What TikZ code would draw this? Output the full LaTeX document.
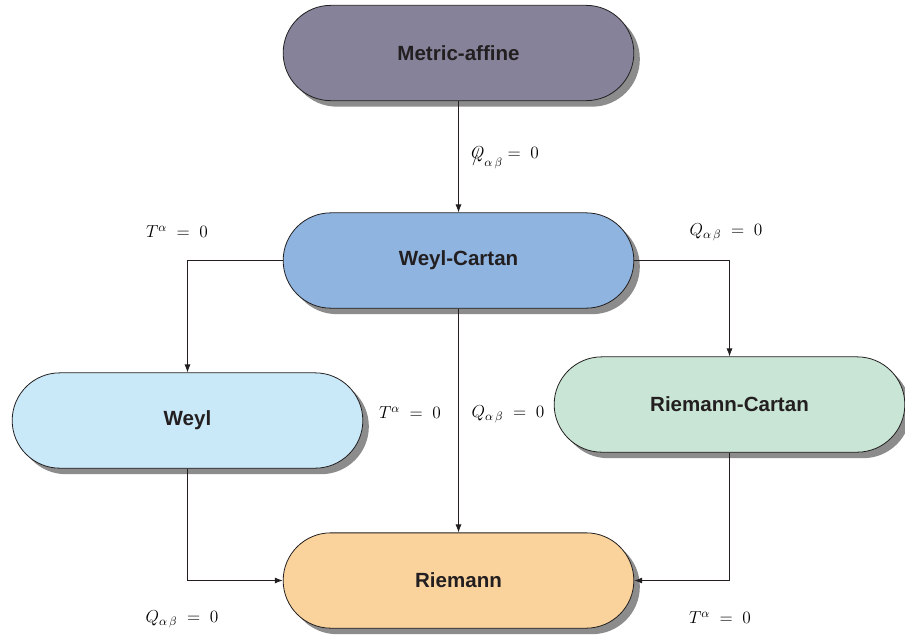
\RequirePackage{fix-cm}
\documentclass[tikz,border=0pt]{standalone}
\usepackage{fontspec}
\newfontfamily\boxfont{Liberation Sans}
\usetikzlibrary{shapes.misc,shadows,arrows.meta}
\definecolor{cma}{HTML}{85829A}
\definecolor{cwc}{HTML}{8EB4DF}
\definecolor{cwe}{HTML}{C9E8F8}
\definecolor{crc}{HTML}{C9E5D5}
\definecolor{cri}{HTML}{F9D29C}
\definecolor{ctext}{HTML}{231F20}
\definecolor{cshadow}{HTML}{8C8C8C}
\newcommand{\slQ}{{\ooalign{$Q$\cr\kern0.05em\raisebox{-0.15em}{$\big/$}\cr}}}
\tikzset{
  geombox/.style={rounded rectangle, draw=ctext, line width=0.6pt,
    minimum width=263pt, minimum height=71.5pt, inner sep=0pt,
    font=\boxfont\bfseries\fontsize{15.4}{18}\selectfont, text=ctext,
    drop shadow={shadow xshift=4.5pt, shadow yshift=-4.5pt, fill=cshadow, opacity=1}},
  conn/.style={draw=ctext, line width=0.6pt, -{Latex[length=6pt,width=4.5pt]}},
  lbl/.style={inner sep=0pt, font=\fontsize{13}{15}\selectfont, text=black}
}
\begin{document}
\begin{tikzpicture}[x=0.75pt, y=-0.75pt]
\useasboundingbox (0,0) rectangle (905,637);
\node[geombox, fill=cma] (ma) at (458.5,53) {Metric-affine};
\node[geombox, fill=cwc] (wc) at (458.5,260.5) {Weyl-Cartan};
\node[geombox, fill=cwe] (we) at (187.5,420.5) {Weyl};
\node[geombox, fill=crc] (rc) at (729.5,404.5) {Riemann-Cartan};
\node[geombox, fill=cri] (ri) at (458.5,580.5) {Riemann};

\draw[conn] (ma.south) -- (wc.north);
\draw[conn] (wc.west) -| (we.north);
\draw[conn] (wc.east) -| (rc.north);
\draw[conn] (wc.south) -- (ri.north);
\draw[conn] (we.south) |- (ri.west);
\draw[conn] (rc.south) |- (ri.east);

\node[lbl] (l1) at (505,158) {$\slQ_{\alpha\,\beta}=\;0$};
\node[lbl] (l2) at (177,232) {$T^{\alpha}\;=\;0$};
\node[lbl] (l3) at (726,232) {$Q_{\alpha\,\beta}\;=\;0$};
\node[lbl] (l4) at (410,413) {$T^{\alpha}\;=\;0$};
\node[lbl] (l5) at (508,414) {$Q_{\alpha\,\beta}\;=\;0$};
\node[lbl] (l6) at (182,619) {$Q_{\alpha\,\beta}\;=\;0$};
\node[lbl] (l7) at (720,618) {$T^{\alpha}\;=\;0$};
\end{tikzpicture}
\end{document}
